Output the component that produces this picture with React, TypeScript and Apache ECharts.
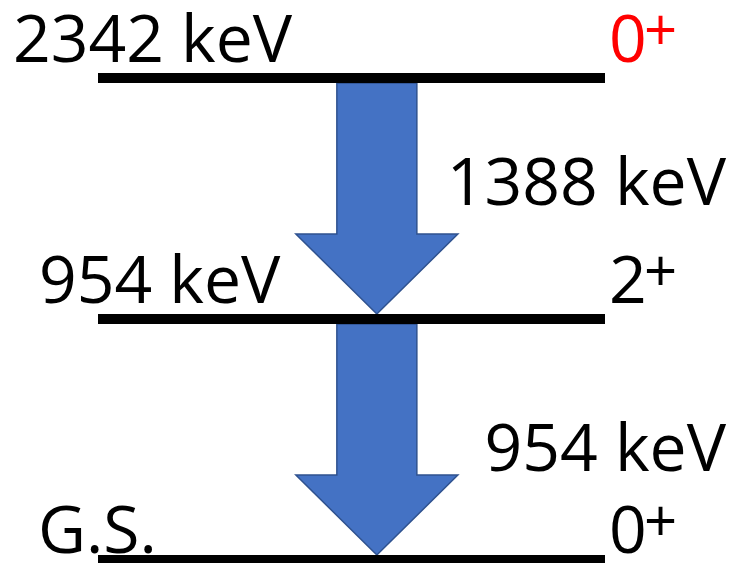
import React, { useEffect, useRef } from "react";
import * as echarts from "echarts";

// Levels (bottom to top)
const levelIndex = [0, 1, 2];
const levelLabels = ["G.S.", "954 keV", "2342 keV"];
const levelSpins = ["0", "2", "0"];
const levelParities = ["+", "+", "+"];
const levelSpinColors = ["#000000", "#000000", "#FF0000"];

// Gamma transitions
const transitionFrom = [2, 1];
const transitionTo = [1, 0];
const transitionLabels = ["1388 keV", "954 keV"];

export default function App() {
  const ref = useRef<HTMLDivElement>(null);

  useEffect(() => {
    document.body.style.margin = "0";
    const chart = echarts.init(ref.current!, null, { renderer: "svg" });

    const FONT = '"Open Sans", sans-serif';
    const FS = 66;
    const FS_SUP = 58;
    const LINE_W = 10;
    const ARROW_X = 0.55;
    const SHAFT_HALF = 40;
    const HEAD_HALF = 81;
    const HEAD_H = 80;
    const CENTRAL = 0.388; // central-baseline offset (em)
    const labelDrop = [9, 0, 0];
    const labelIndent = [60, 59, 85];
    const transLabelGap = [29, 4];

    const levelData = levelIndex.map((lv, i) => [lv, i]);
    const transData = transitionFrom.map((f, i) => [f, transitionTo[i], i]);

    chart.setOption({
      animation: false,
      grid: { left: 98, right: 131, top: 78, bottom: 3 },
      xAxis: { type: "value", min: 0, max: 1, show: false },
      yAxis: { type: "value", min: 0, max: 2, show: false },
      series: [
        {
          type: "custom",
          clip: false,
          silent: true,
          z: 1,
          data: transData,
          renderItem: (params: any, api: any) => {
            const i = params.dataIndex;
            const from = api.value(0);
            const to = api.value(1);
            const top = api.coord([ARROW_X, from]);
            const bot = api.coord([ARROW_X, to]);
            const cx = top[0];
            const y0 = top[1] + LINE_W / 2;
            const tip = bot[1] - LINE_W / 2;
            const headTop = tip - HEAD_H;
            const base = headTop - transLabelGap[i];
            return {
              type: "group",
              children: [
                {
                  type: "polygon",
                  shape: {
                    points: [
                      [cx - SHAFT_HALF, y0],
                      [cx + SHAFT_HALF, y0],
                      [cx + SHAFT_HALF, headTop],
                      [cx + HEAD_HALF, headTop],
                      [cx, tip],
                      [cx - HEAD_HALF, headTop],
                      [cx - SHAFT_HALF, headTop],
                    ],
                  },
                  style: { fill: "#4472C4", stroke: "#2F528F", lineWidth: 1.5 },
                },
                {
                  type: "text",
                  style: {
                    text: transitionLabels[i],
                    x: 726,
                    y: base - CENTRAL * FS,
                    font: `${FS}px ${FONT}`,
                    fill: "#000000",
                    align: "right",
                    verticalAlign: "middle",
                  },
                },
              ],
            };
          },
        },
        {
          type: "custom",
          clip: false,
          silent: true,
          z: 2,
          data: levelData,
          renderItem: (params: any, api: any) => {
            const i = params.dataIndex;
            const lv = api.value(0);
            const p0 = api.coord([0, lv]);
            const p1 = api.coord([1, lv]);
            const L = p0[1];
            const base = L - 16 + labelDrop[i];
            return {
              type: "group",
              children: [
                {
                  type: "rect",
                  shape: { x: p0[0], y: L - LINE_W / 2, width: p1[0] - p0[0], height: LINE_W },
                  style: { fill: "#000000" },
                },
                {
                  type: "text",
                  style: {
                    text: levelLabels[i],
                    x: p0[0] - labelIndent[i],
                    y: base - CENTRAL * FS,
                    font: `${FS}px ${FONT}`,
                    fill: "#000000",
                    align: "left",
                    verticalAlign: "middle",
                  },
                },
                {
                  type: "text",
                  style: {
                    text: levelSpins[i],
                    x: p1[0] + 4,
                    y: base - CENTRAL * FS,
                    font: `${FS}px ${FONT}`,
                    fill: levelSpinColors[i],
                    align: "left",
                    verticalAlign: "middle",
                  },
                },
                {
                  type: "text",
                  style: {
                    text: levelParities[i],
                    x: p1[0] + 39,
                    y: base - 34,
                    font: `${FS_SUP}px ${FONT}`,
                    fill: levelSpinColors[i],
                    align: "left",
                    verticalAlign: "middle",
                  },
                },
              ],
            };
          },
        },
      ],
    });

    return () => chart.dispose();
  }, []);

  return (
    <div
      ref={ref}
      style={{ position: "absolute", left: 0, top: 0, width: 736, height: 563, background: "#ffffff" }}
    />
  );
}
